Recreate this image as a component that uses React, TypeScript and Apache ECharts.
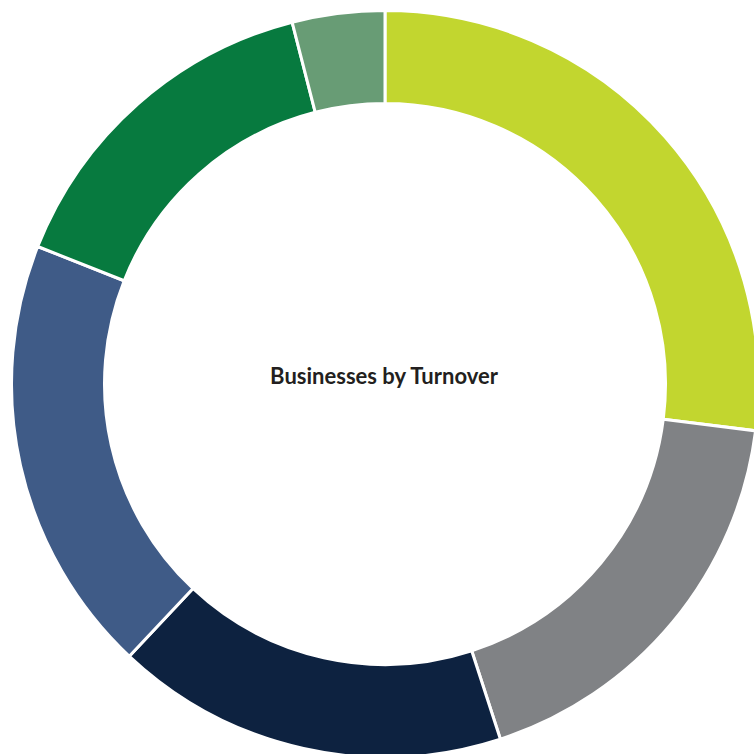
import React, { useEffect, useRef } from "react";
import * as echarts from "echarts";

const categories = ["Segment A", "Segment B", "Segment C", "Segment D", "Segment E", "Segment F"];
const values = [27, 18, 17, 19, 15, 4];
const colors = ["#c2d62f", "#808285", "#0d2240", "#3f5b87", "#077a3f", "#689c75"];
const centerTitle = "Businesses by Turnover";

export default function App() {
  const ref = useRef<HTMLDivElement>(null);
  useEffect(() => {
    if (!ref.current) return;
    const chart = echarts.init(ref.current, undefined, { renderer: "svg" });
    chart.setOption({
      animation: false,
      backgroundColor: "#ffffff",
      graphic: [
        {
          type: "text",
          x: 384,
          y: 375,
          style: {
            text: centerTitle,
            fill: "#231f20",
            font: "bold 22px Lato, sans-serif",
            align: "center",
            verticalAlign: "middle",
          },
        },
      ],
      series: [
        {
          type: "pie",
          center: [385, 384],
          radius: [280.5, 373.5],
          startAngle: 90,
          clockwise: true,
          label: { show: false },
          labelLine: { show: false },
          emphasis: { disabled: true },
          itemStyle: { borderColor: "#ffffff", borderWidth: 3 },
          data: categories.map((name, i) => ({
            name,
            value: values[i],
            itemStyle: { color: colors[i] },
          })),
        },
      ],
    });
    return () => chart.dispose();
  }, []);
  return (
    <div
      ref={ref}
      style={{ position: "fixed", left: 0, top: 0, width: 754, height: 754 }}
    />
  );
}
